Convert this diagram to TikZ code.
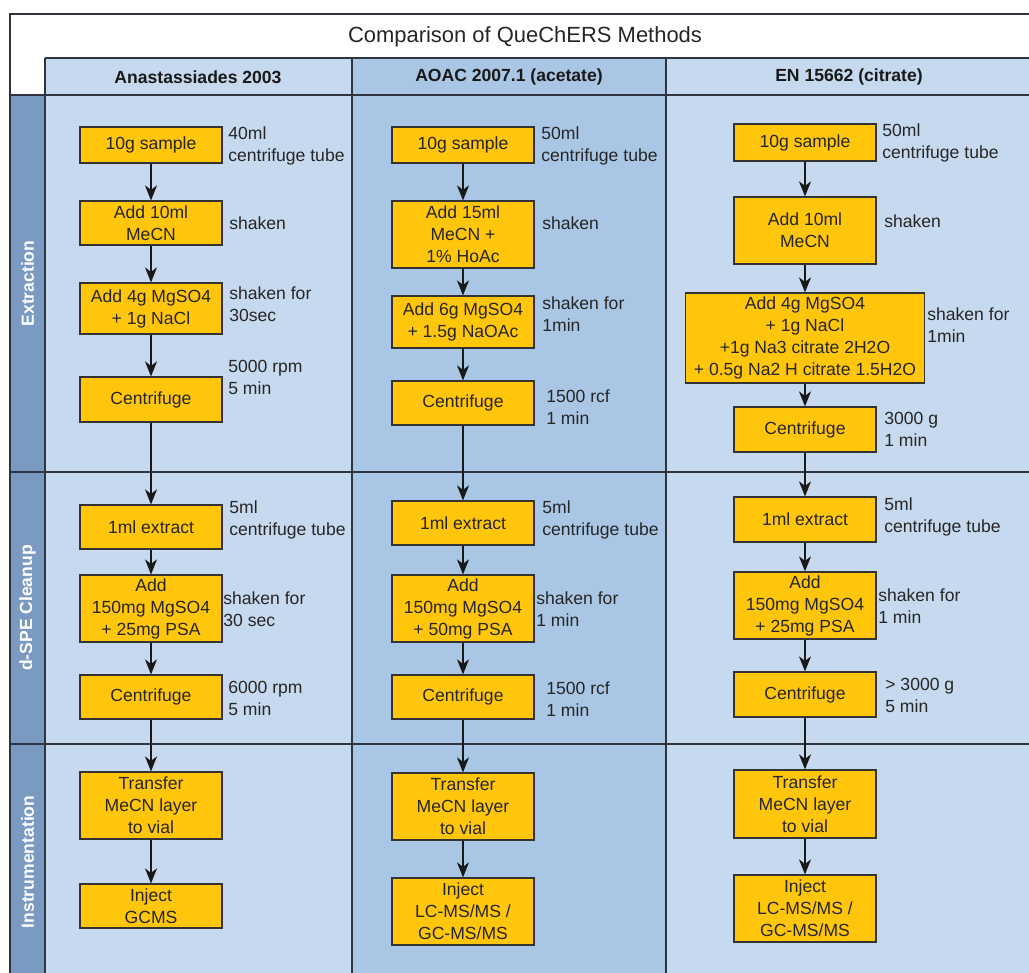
\documentclass[tikz,border=0pt]{standalone}
\usepackage{fontspec}
\setmainfont{Liberation Sans}
\usepackage{xcolor}
\usetikzlibrary{arrows.meta}

\definecolor{lanelight}{HTML}{C6D9EE}
\definecolor{lanedark}{HTML}{A9C7E5}
\definecolor{sidebar}{HTML}{7A9AC2}
\definecolor{stepfill}{HTML}{FFC60B}
\definecolor{frame}{HTML}{2E3440}

\begin{document}
\begin{tikzpicture}[x=0.02cm, y=-0.02cm,
        stepbox/.style={draw=black!80, line width=0.7pt, fill=stepfill, align=center,
            minimum width=2.84cm, inner sep=0pt, text=black!85, font=\fontsize{10}{12.5}\selectfont},
        note/.style={anchor=west, align=left, inner sep=0pt, text=black!85,
            font=\fontsize{10}{12.5}\selectfont},
        colhead/.style={inner sep=0pt, text=black!90, font=\fontsize{10}{12}\selectfont\bfseries},
        lanehead/.style={rotate=90, inner sep=0pt, text=white, font=\fontsize{10}{12}\selectfont\bfseries},
        flow/.style={-{Stealth[length=0.3cm, width=0.24cm, inset=0.09cm]}, line width=0.8pt, black!90},
        frameline/.style={frame, line width=0.9pt}]
        \useasboundingbox (0,0) rectangle (1029,973);
        \clip (0,0) rectangle (1029,973);

        % background: columns and lane strip
        \fill[lanelight] (45,58) rectangle (352,980);
        \fill[lanedark] (352,58) rectangle (666,980);
        \fill[lanelight] (666,58) rectangle (1040,980);
        \fill[sidebar] (10,95) rectangle (45,980);
        \draw[frameline] (10,14) rectangle (1040,980);
        \draw[frameline] (45,58) -- (1040,58);
        \foreach \y in {95, 472, 744} {
            \draw[frameline] (10,\y) -- (1040,\y);
        }
        \foreach \x in {45, 352, 666} {
            \draw[frameline] (\x,58) -- (\x,980);
        }

        % headers
        \node[inner sep=0pt, font=\fontsize{12.5}{15}\selectfont, text=black!85] (title) at (525,37) {Comparison of QueChERS Methods};
        \node[colhead] (head1) at (198,77) {Anastassiades 2003};
        \node[colhead] (head2) at (509,77) {AOAC 2007.1 (acetate)};
        \node[colhead] (head3) at (849,77) {EN 15662 (citrate)};
        \node[lanehead] (lane1) at (27.5,283.5) {Extraction};
        \node[lanehead] (lane2) at (27.5,608) {d-SPE Cleanup};
        \node[lanehead] (lane3) at (27.5,862) {Instrumentation};

        % column 1: Anastassiades 2003
        \begin{scope}[name prefix=col1-]
            \node[stepbox, minimum height=0.72cm] (1) at (151,145) {10g sample};
            \node[stepbox, minimum height=0.88cm] (2) at (151,223) {Add 10ml\\MeCN};
            \node[stepbox, minimum height=1.02cm] (3) at (151,308.5) {Add 4g MgSO4\\+ 1g NaCl};
            \node[stepbox, minimum height=0.9cm] (4) at (151,399.5) {Centrifuge};
            \node[stepbox, minimum height=0.88cm] (5) at (151,527) {1ml extract};
            \node[stepbox, minimum height=1.34cm] (6) at (151,608.5) {Add\\150mg MgSO4\\+ 25mg PSA};
            \node[stepbox, minimum height=0.88cm] (7) at (151,697) {Centrifuge};
            \node[stepbox, minimum height=1.34cm] (8) at (151,805.5) {Transfer\\MeCN layer\\to vial};
            \node[stepbox, minimum height=0.88cm] (9) at (151,906) {Inject\\GCMS};
            \node[note] (n1) at (228,146) {40ml\\centrifuge tube};
            \node[note] (n2) at (229,223) {shaken};
            \node[note] (n3) at (229,304.5) {shaken for\\30sec};
            \node[note] (n4) at (228,377) {5000 rpm\\5 min};
            \node[note] (n5) at (229,520) {5ml\\centrifuge tube};
            \node[note] (n6) at (223,609.5) {shaken for\\30 sec};
            \node[note] (n7) at (228,698.5) {6000 rpm\\5 min};
        \end{scope}

        % column 2: AOAC 2007.1
        \begin{scope}[name prefix=col2-]
            \node[stepbox, minimum height=0.72cm] (1) at (463,145) {10g sample};
            \node[stepbox, minimum height=1.34cm] (2) at (463,234.5) {Add 15ml\\MeCN +\\1\% HoAc};
            \node[stepbox, minimum height=1.04cm] (3) at (463,322) {Add 6g MgSO4\\+ 1.5g NaOAc};
            \node[stepbox, minimum height=0.88cm] (4) at (463,403) {Centrifuge};
            \node[stepbox, minimum height=0.88cm] (5) at (463,523) {1ml extract};
            \node[stepbox, minimum height=1.34cm] (6) at (463,608.5) {Add\\150mg MgSO4\\+ 50mg PSA};
            \node[stepbox, minimum height=0.88cm] (7) at (463,697) {Centrifuge};
            \node[stepbox, minimum height=1.34cm] (8) at (463,806.5) {Transfer\\MeCN layer\\to vial};
            \node[stepbox, minimum height=1.34cm] (9) at (463,911.5) {Inject\\LC-MS/MS /\\GC-MS/MS};
            \node[note] (n1) at (541,146) {50ml\\centrifuge tube};
            \node[note] (n2) at (542,223) {shaken};
            \node[note] (n3) at (542,314) {shaken for\\1min};
            \node[note] (n4) at (546,407.5) {1500 rcf\\1 min};
            \node[note] (n5) at (542,520) {5ml\\centrifuge tube};
            \node[note] (n6) at (536,609.5) {shaken for\\1 min};
            \node[note] (n7) at (546,699) {1500 rcf\\1 min};
        \end{scope}

        % column 3: EN 15662
        \begin{scope}[name prefix=col3-]
            \node[stepbox, minimum height=0.74cm] (1) at (805,142.5) {10g sample};
            \node[stepbox, minimum height=1.34cm] (2) at (805,230.5) {Add 10ml\\MeCN};
            \node[stepbox, minimum height=1.8cm, minimum width=4.78cm] (3) at (805,338)
                {Add 4g MgSO4\\+ 1g NaCl\\+1g Na3 citrate 2H2O\\+ 0.5g Na2 H citrate 1.5H2O};
            \node[stepbox, minimum height=0.9cm] (4) at (805,429.5) {Centrifuge};
            \node[stepbox, minimum height=0.9cm] (5) at (805,519.5) {1ml extract};
            \node[stepbox, minimum height=1.34cm] (6) at (805,605.5) {Add\\150mg MgSO4\\+ 25mg PSA};
            \node[stepbox, minimum height=0.9cm] (7) at (805,694.5) {Centrifuge};
            \node[stepbox, minimum height=1.36cm] (8) at (805,804) {Transfer\\MeCN layer\\to vial};
            \node[stepbox, minimum height=1.34cm] (9) at (805,908.5) {Inject\\LC-MS/MS /\\GC-MS/MS};
            \node[note] (n1) at (882,142.5) {50ml\\centrifuge tube};
            \node[note] (n2) at (884,221) {shaken};
            \node[note] (n3) at (927,325) {shaken for\\1min};
            \node[note] (n4) at (884,429) {3000 g\\1 min};
            \node[note] (n5) at (884,516.5) {5ml\\centrifuge tube};
            \node[note] (n6) at (878,606) {shaken for\\1 min};
            \node[note] (n7) at (885,695.5) {> 3000 g\\5 min};
        \end{scope}

        % flow arrows
        \foreach \c in {1, 2, 3} {
            \foreach \i [count=\j from 2] in {1,...,8} {
                \draw[flow] (col\c-\i) -- (col\c-\j);
            }
        }
    \end{tikzpicture}
\end{document}
